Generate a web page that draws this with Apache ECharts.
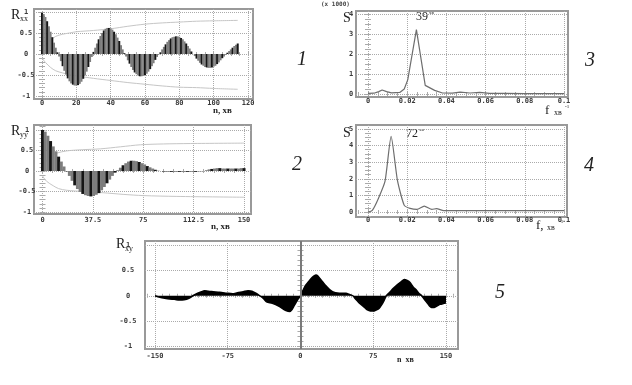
<!DOCTYPE html>
<html><head><meta charset="utf-8">
<script src="https://cdn.jsdelivr.net/npm/echarts@6/dist/echarts.min.js"></script>
<style>html,body{margin:0;padding:0;background:#fff}#c{width:632px;height:385px}</style>
</head><body><div id="c"></div>
<script>
// ---------- DATA ----------
// Plot 1: autocorrelation R_xx, lag step 1 (min)
const rxxStep = 1;
const rxxValues = [
 0.98,0.95,0.88,0.78,0.66,0.53,0.40,0.27,0.15,0.04,
 -0.06,-0.17,-0.29,-0.40,-0.49,-0.58,-0.65,-0.70,-0.73,-0.75,
 -0.75,-0.74,-0.71,-0.66,-0.59,-0.51,-0.42,-0.31,-0.19,-0.07,
 0.05,0.15,0.25,0.35,0.43,0.50,0.56,0.60,0.62,0.62,
 0.61,0.58,0.53,0.47,0.39,0.31,0.21,0.11,0.02,-0.06,
 -0.15,-0.23,-0.31,-0.38,-0.44,-0.48,-0.51,-0.53,-0.53,-0.52,
 -0.50,-0.47,-0.42,-0.36,-0.29,-0.22,-0.14,-0.07,-0.01,0.04,
 0.11,0.17,0.23,0.29,0.33,0.37,0.40,0.41,0.42,0.42,
 0.41,0.38,0.35,0.30,0.25,0.19,0.13,0.06,0.00,-0.05,
 -0.11,-0.16,-0.21,-0.25,-0.28,-0.31,-0.32,-0.33,-0.33,-0.32,
 -0.30,-0.28,-0.24,-0.20,-0.15,-0.10,-0.06,-0.02,0.03,0.07,
 0.11,0.15,0.19,0.22,0.25
];
const rxxUpper = [[0,0.12],[2,0.22],[5,0.33],[8,0.42],[12,0.47],[16,0.5],[20,0.53],[30,0.56],[40,0.6],[50,0.66],[60,0.71],[70,0.74],[80,0.76],[90,0.78],[100,0.79],[114,0.8]];
const rxxLower = [[0,-0.1],[2,-0.2],[5,-0.32],[8,-0.4],[12,-0.45],[16,-0.49],[20,-0.52],[30,-0.58],[40,-0.63],[50,-0.68],[60,-0.72],[70,-0.76],[80,-0.79],[90,-0.8],[100,-0.82],[114,-0.84]];

// Plot 2: autocorrelation R_yy, lag step 2 (min)
const ryyStep = 2;
const ryyValues = [
 1.0,0.96,0.86,0.73,0.60,0.48,0.35,0.23,0.11,-0.01,
 -0.12,-0.24,-0.35,-0.44,-0.51,-0.56,-0.59,-0.61,-0.62,-0.61,
 -0.58,-0.54,-0.47,-0.39,-0.30,-0.21,-0.12,-0.04,0.02,0.08,
 0.14,0.19,0.23,0.25,0.25,0.24,0.22,0.19,0.16,0.12,
 0.09,0.06,0.03,0.01,0.0,-0.01,-0.02,-0.02,-0.02,-0.02,
 -0.02,-0.02,-0.02,-0.02,-0.02,-0.02,-0.02,-0.02,-0.01,-0.01,
 0.0,0.02,0.04,0.05,0.06,0.07,0.07,0.06,0.06,0.06,
 0.06,0.06,0.06,0.06,0.07,0.07
];
const ryyUpper = [[0,0.1],[3,0.25],[6,0.36],[10,0.43],[18,0.49],[30,0.52],[43,0.54],[58,0.59],[73,0.64],[90,0.66],[110,0.67],[150,0.68]];
const ryyLower = [[0,-0.12],[3,-0.25],[8,-0.36],[12,-0.43],[18,-0.47],[30,-0.5],[45,-0.53],[60,-0.57],[75,-0.6],[100,-0.62],[150,-0.64]];

// Plot 3: spectrum S_x (x1000)
const sxFreq = [0,0.003,0.0055,0.0072,0.0095,0.012,0.0162,0.0185,0.0203,0.0247,0.0292,0.034,0.038,0.043,0.047,0.052,0.057,0.062,0.07,0.08,0.1];
const sxValues = [0.03,0.04,0.12,0.2,0.12,0.06,0.08,0.25,0.72,3.22,0.43,0.18,0.05,0.04,0.09,0.05,0.08,0.03,0.03,0.02,0.02];

// Plot 4: spectrum S_y
const syFreq = [0,0.0022,0.0053,0.0087,0.0118,0.015,0.0185,0.0215,0.025,0.0287,0.0326,0.035,0.0386,0.045,0.06,0.08,0.1];
const syValues = [0,0.1,0.82,1.86,4.56,1.92,0.4,0.22,0.16,0.36,0.16,0.2,0.08,0.08,0.08,0.08,0.08];

// Plot 5: cross-correlation R_xy
const rxyLag = [-150,-145,-140,-135,-130,-125,-120,-115,-111,-106,-102,-99,-95,-90,-85,-80,-76,-70,-65,-59,-54,-50,-46,-42,-38,-35,-29,-22,-15,-11,-6,-3,0,
 3,5,8,11,14,16,18,20,23,26,30,33,36,40,44,47,50,54,57,60,63,66,69,72,75,78,81,84,86,88.5,92,96,100,104,107,110,113,116,120,122,125,128,131,133,135,138,141,144,148,150];
const rxyValues = [0,-0.03,-0.05,-0.065,-0.07,-0.085,-0.08,-0.05,0,0.05,0.08,0.1,0.09,0.08,0.07,0.06,0.05,0.04,0.06,0.08,0.1,0.09,0.05,0,-0.06,-0.12,-0.15,-0.21,-0.29,-0.31,-0.18,-0.08,0,
 0.12,0.2,0.27,0.34,0.39,0.41,0.39,0.34,0.27,0.2,0.12,0.08,0.06,0.05,0.05,0.05,0.03,0,-0.07,-0.13,-0.18,-0.23,-0.28,-0.3,-0.3,-0.28,-0.25,-0.17,-0.1,0,0.07,0.15,0.22,0.28,0.32,0.3,0.26,0.18,0.1,0.05,0,-0.08,-0.15,-0.2,-0.23,-0.23,-0.2,-0.17,-0.15,-0.14];

// Tick labels
const rxxTicks = [0,20,40,60,80,100,120];
const ryyTicks = [0,37.5,75,112.5,150];
const freqTicks = [0,0.02,0.04,0.06,0.08,0.1];
const rTicks = [-1,-0.5,0,0.5,1];
const sxTicks = [0,1,2,3,4];
const syTicks = [0,1,2,3,4,5];
const rxyTicks = [-150,-75,0,75,150];

// ---------- LAYOUT ----------
const panels = [
 {left:34, top:9,  width:219, height:90,  xmin:-4.66, xmax:122.9, ymin:-1.071, ymax:1.071, xt:rxxTicks, yt:rTicks, xminor:5, yminor:0.1, ylm:8, xlm:1},
 {left:34, top:125,width:217, height:89,  xmin:-6.33, xmax:155.2, ymin:-1.049, ymax:1.122, xt:ryyTicks, yt:rTicks, xminor:7.5, yminor:0.1, ylm:7, xlm:3},
 {left:356,top:11, width:212, height:86,  xmin:-0.00612, xmax:0.10204, ymin:-0.15, ymax:4.15, xt:freqTicks, yt:sxTicks, xminor:0.005, yminor:0.25, ylm:5, xlm:1},
 {left:356,top:125,width:211, height:92,  xmin:-0.00612, xmax:0.10153, ymin:-0.30, ymax:5.24, xt:freqTicks, yt:syTicks, xminor:0.005, yminor:0.25, ylm:5, xlm:0},
 {left:145,top:241,width:313, height:108, xmin:-160.3, xmax:162.4, ymin:-1.049, ymax:1.079, xt:rxyTicks, yt:rTicks, xminor:7.5, yminor:0.1, ylm:17, xlm:3.5}
];

const fmt = v => String(+(+v).toFixed(4));
const labelStyle = {fontSize:7, fontWeight:'bold', fontFamily:'DejaVu Sans Mono', color:'#3a3a3a', formatter: fmt};

function minors(min, max, step){
  const out=[]; let v=Math.ceil(min/step)*step;
  for(; v<=max+1e-9; v+=step) out.push(+v.toFixed(6));
  return out;
}

const grid=[], xAxis=[], yAxis=[], mainX=[], mainY=[];
panels.forEach((p,i)=>{
  grid.push({left:p.left, top:p.top, width:p.width, height:p.height, show:true, borderColor:'#999', borderWidth:2, backgroundColor:'transparent', containLabel:false});
  mainX.push(xAxis.length);
  xAxis.push({gridIndex:i, type:'value', min:p.xmin, max:p.xmax, position:'bottom',
    axisLine:{show:false}, axisTick:{show:false, customValues:p.xt},
    axisLabel:Object.assign({customValues:p.xt, margin:p.xlm}, labelStyle),
    splitLine:{show:true, lineStyle:{type:'dotted', color:'#aaa', width:1}}});
  const xm = minors(p.xmin,p.xmax,p.xminor), ym = minors(p.ymin,p.ymax,p.yminor);
  ['top','bottom'].forEach(pos=>xAxis.push({gridIndex:i, type:'value', min:p.xmin, max:p.xmax, position:pos,
    axisLine:{show:false}, axisTick:{show:true, inside:true, length:2, customValues:xm, lineStyle:{color:'#aaa'}},
    axisLabel:{show:false}, splitLine:{show:false}}));
  mainY.push(yAxis.length);
  yAxis.push({gridIndex:i, type:'value', min:p.ymin, max:p.ymax, position:'left',
    axisLine:{show:false}, axisTick:{show:false, customValues:p.yt},
    axisLabel:Object.assign({customValues:p.yt, margin:p.ylm, align:'center'}, labelStyle),
    splitLine:{show:true, lineStyle:{type:'dotted', color:'#aaa', width:1}}});
  ['left','right'].forEach(pos=>yAxis.push({gridIndex:i, type:'value', min:p.ymin, max:p.ymax, position:pos,
    axisLine:{show:false}, axisTick:{show:true, inside:true, length:3, customValues:ym, lineStyle:{color:'#aaa'}},
    axisLabel:{show:false}, splitLine:{show:false}}));
});

const stripe = p => (p.dataIndex % 3 === 0 ? '#151515' : '#7d7d7d');
const bandLine = (gi, data) => ({type:'line', xAxisIndex:mainX[gi], yAxisIndex:mainY[gi], data, showSymbol:false, smooth:0.3, silent:true,
  lineStyle:{color:'#c6c6c6', width:1}, z:1});

const series = [
  {type:'bar', xAxisIndex:mainX[0], yAxisIndex:mainY[0], barWidth:2, silent:true,
   data: rxxValues.map((v,i)=>[i*rxxStep, v]), itemStyle:{color:stripe}, z:2},
  bandLine(0, rxxUpper), bandLine(0, rxxLower),
  {type:'bar', xAxisIndex:mainX[1], yAxisIndex:mainY[1], barWidth:3, silent:true,
   data: ryyValues.map((v,i)=>[i*ryyStep, v]), itemStyle:{color:stripe}, z:2},
  bandLine(1, ryyUpper), bandLine(1, ryyLower),
  {type:'line', xAxisIndex:mainX[2], yAxisIndex:mainY[2], showSymbol:false, silent:true,
   data: sxFreq.map((f,i)=>[f, sxValues[i]]), lineStyle:{color:'#6e6e6e', width:1.2}},
  {type:'line', xAxisIndex:mainX[3], yAxisIndex:mainY[3], showSymbol:false, silent:true, smooth:0.2,
   data: syFreq.map((f,i)=>[f, syValues[i]]), lineStyle:{color:'#6e6e6e', width:1.2}},
  {type:'line', xAxisIndex:mainX[4], yAxisIndex:mainY[4], showSymbol:false, silent:true, smooth:0.3,
   data: rxyLag.map((n,i)=>[n, rxyValues[i]]), lineStyle:{color:'#000', width:1.5},
   areaStyle:{color:'#000', opacity:1},
   markLine:{silent:true, symbol:'none', label:{show:false}, lineStyle:{color:'#7a7a7a', width:2, type:'solid'}, data:[{xAxis:0}]}}
];

const serif = 'Liberation Serif';
function t(x,y,text,size,opt){ return Object.assign({type:'text', x, y, silent:true,
  style:Object.assign({text, fontSize:size, fontFamily:serif, fill:'#222'}, opt||{})}); }
const graphic = [
  t(11,8,'R',14), t(20,15,'xx',8),
  t(11,124,'R',14), t(20,131,'yy',8),
  t(116,237,'R',14), t(125,245,'xy',8),
  t(343,11,'S',14), t(343,126,'S',14),
  t(321,1,'(x 1000)',6,{fontFamily:'DejaVu Sans Mono', fontWeight:'bold', fill:'#444'}),
  t(416,11,'39',12), t(429,10,'хв',5),
  t(406,128,'72',12), t(419,127,'хв',5),
  t(213,106,'n, хв',9,{fontWeight:'bold'}),
  t(211,222,'n, хв',9,{fontWeight:'bold'}),
  t(397,356,'n  хв',8,{fontWeight:'bold'}),
  t(545,104,'f',13), t(554,109,'хв',8), t(565,104,'-1',5),
  t(536,219,'f,',13), t(547,224,'хв',8), t(559,219,'-1',5),
  t(297,50,'1',20,{fontStyle:'italic'}),
  t(292,155,'2',20,{fontStyle:'italic'}),
  t(585,51,'3',20,{fontStyle:'italic'}),
  t(584,156,'4',20,{fontStyle:'italic'}),
  t(495,283,'5',20,{fontStyle:'italic'})
];

const chart = echarts.init(document.getElementById('c'), null, {renderer:'canvas'});
chart.setOption({animation:false, backgroundColor:'#fff', grid, xAxis, yAxis, series, graphic});
</script>
</body></html>
